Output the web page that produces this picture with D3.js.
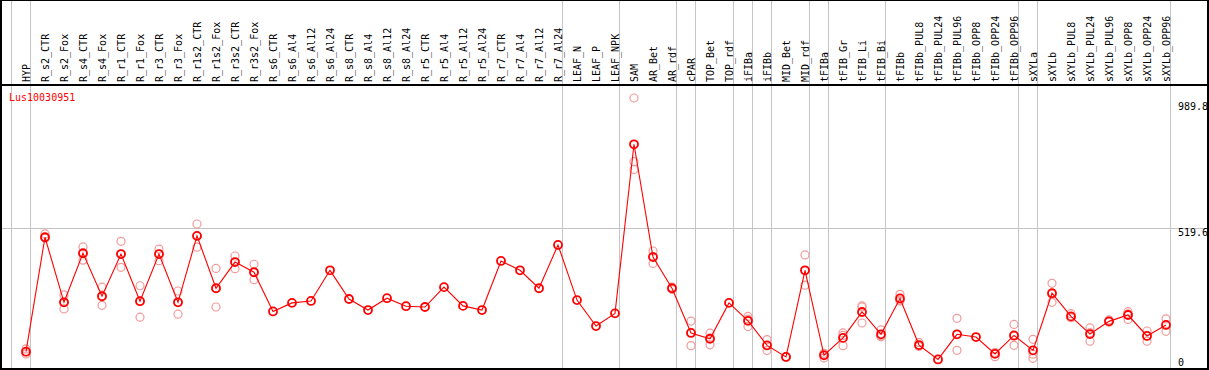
<!DOCTYPE html>
<html>
<head>
<meta charset="utf-8">
<script src="https://cdn.jsdelivr.net/npm/d3@7.9.0/dist/d3.min.js"></script>
<style>
  body { margin: 0; background: #fff; }
  svg { display: block; font-family: 'DejaVu Sans Mono', monospace; font-size: 10px; }
</style>
</head>
<body>
<div id="chart"></div>
<script>
const geneId = 'Lus10030951';

const samples = [
  'HYP', 'R_s2_CTR', 'R_s2_Fox', 'R_s4_CTR', 'R_s4_Fox', 'R_r1_CTR', 'R_r1_Fox',
  'R_r3_CTR', 'R_r3_Fox', 'R_r1s2_CTR', 'R_r1s2_Fox', 'R_r3s2_CTR', 'R_r3s2_Fox',
  'R_s6_CTR', 'R_s6_Al4', 'R_s6_Al12', 'R_s6_Al24', 'R_s8_CTR', 'R_s8_Al4',
  'R_s8_Al12', 'R_s8_Al24', 'R_r5_CTR', 'R_r5_Al4', 'R_r5_Al12', 'R_r5_Al24',
  'R_r7_CTR', 'R_r7_Al4', 'R_r7_Al12', 'R_r7_Al24', 'LEAF_N', 'LEAF_P', 'LEAF_NPK',
  'SAM', 'AR_Bet', 'AR_rdf', 'cPAR', 'TOP_Bet', 'TOP_rdf', 'iFIBa', 'iFIBb',
  'MID_Bet', 'MID_rdf', 'tFIBa', 'tFIB_Gr', 'tFIB_Li', 'tFIB_Bi', 'tFIBb',
  'tFIBb_PUL8', 'tFIBb_PUL24', 'tFIBb_PUL96', 'tFIBb_OPP8', 'tFIBb_OPP24', 'tFIBb_OPP96',
  'sXYLa', 'sXYLb', 'sXYLb_PUL8', 'sXYLb_PUL24', 'sXYLb_PUL96', 'sXYLb_OPP8',
  'sXYLb_OPP24', 'sXYLb_OPP96',
];

// mean expression per sample
const means = [
  70, 485, 249, 427, 271, 424, 253, 424, 249, 490, 300, 395, 358,
  216, 247, 254, 365, 261, 221, 264, 235, 232, 304, 236, 221,
  399, 365, 300, 457, 257, 163, 209,
  822, 413, 300, 138, 117, 247, 182, 93, 51, 365, 57, 120, 214, 133, 263,
  94, 42, 133, 123, 62, 129,
  75, 282, 198, 134, 180, 203, 127, 167,
];

// individual replicates (empty where they sit under the mean)
const replicates = [
  [80, 62, 70], [497, 482, 485], [276, 225, 249], [450, 402, 427], [304, 238, 271],
  [470, 376, 424], [309, 195, 253], [442, 400, 424], [290, 206, 249], [533, 449, 489],
  [372, 232, 300], [417, 371, 395], [387, 331, 358],
  [], [], [], [], [], [], [], [], [], [], [], [], [], [], [], [], [], [], [],
  [989.8, 759, 731], [435, 390, 415], [304, 296, 300], [181, 92, 140], [137, 95, 119],
  [], [198, 161, 188], [114, 74, 92], [50, 53], [421, 311, 364], [47, 60, 64],
  [138, 92, 129], [236, 174, 232], [149, 124, 127], [278, 254, 257],
  [103, 90, 90], [42], [191, 75, 133], [], [52, 66, 67], [169, 93, 126],
  [115, 61, 46], [318, 249, 278], [208, 193, 194], [156, 108, 139], [185, 178, 178],
  [215, 187, 207], [145, 108, 128], [189, 144, 168],
];

// first sample of each group, a separator is drawn before it
const groupStarts = [
  'HYP', 'R_s2_CTR', 'LEAF_N', 'SAM', 'cPAR', 'TOP_Bet', 'iFIBa', 'iFIBb',
  'MID_Bet', 'tFIBa', 'tFIB_Gr', 'tFIBb', 'sXYLa', 'sXYLb',
];

const yTicks = [0, 519.6, 989.8];

const width = 1209;
const height = 370;
const headerBottom = 85;

const svg = d3.select('#chart')
  .append('svg')
  .attr('width', width)
  .attr('height', height);

const xBand = d3.scaleBand()
  .domain(samples)
  .range([11, 1170]);

const xScale = d3.scalePoint()
  .domain(samples)
  .range([11, 1170])
  .padding(0.5)
  .align(15 / 19);

const yScale = d3.scaleLinear()
  .domain([0, 989.8])
  .range([371, 98]);

const grid = svg.append('g')
  .attr('stroke', '#c4c4c4')
  .attr('stroke-width', 1)
  .attr('shape-rendering', 'crispEdges');

const sepX = groupStarts.map((s) => xBand(s)).concat([xBand.range()[1]]);

grid.selectAll('line.sep')
  .data(sepX)
  .join('line')
  .attr('class', 'sep')
  .attr('x1', (d) => d + 0.5)
  .attr('x2', (d) => d + 0.5)
  .attr('y1', 0)
  .attr('y2', height);

grid.append('line')
  .attr('x1', 0)
  .attr('x2', 1207)
  .attr('y1', Math.round(yScale(519.6)) + 0.5)
  .attr('y2', Math.round(yScale(519.6)) + 0.5);

// sample labels in the header
svg.append('g')
  .selectAll('text')
  .data(samples)
  .join('text')
  .attr('transform', (d) => `translate(${xScale(d) + 4},82) rotate(-90)`)
  .attr('fill', '#000')
  .text((d) => d);

svg.append('text')
  .attr('x', 9)
  .attr('y', 101)
  .attr('fill', '#ff0000')
  .text(geneId);

// value labels on the right
svg.append('g')
  .selectAll('text')
  .data(yTicks)
  .join('text')
  .attr('x', 1178)
  .attr('y', (d) => Math.max(110, Math.min(366, yScale(d) + 8)))
  .attr('fill', '#000')
  .text((d) => d);

const points = samples.map((s, i) => ({ sample: s, mean: means[i], reps: replicates[i] }));

const repData = points.flatMap((p) => p.reps.map((v) => ({ sample: p.sample, value: v })));

svg.append('g')
  .selectAll('circle')
  .data(repData)
  .join('circle')
  .attr('cx', (d) => xScale(d.sample))
  .attr('cy', (d) => yScale(d.value))
  .attr('r', 4)
  .attr('fill', 'none')
  .attr('stroke', '#f09a9a')
  .attr('stroke-width', 1.2);

const line = d3.line()
  .x((d) => xScale(d.sample))
  .y((d) => yScale(d.mean));

svg.append('path')
  .datum(points)
  .attr('d', line)
  .attr('fill', 'none')
  .attr('stroke', '#ff0000')
  .attr('stroke-width', 1.1);

svg.append('g')
  .selectAll('circle')
  .data(points)
  .join('circle')
  .attr('cx', (d) => xScale(d.sample))
  .attr('cy', (d) => yScale(d.mean))
  .attr('r', 4)
  .attr('fill', 'none')
  .attr('stroke', '#ff0000')
  .attr('stroke-width', 1.8);

// frame
const frame = svg.append('g')
  .attr('stroke', '#000')
  .attr('stroke-width', 2)
  .attr('shape-rendering', 'crispEdges');

frame.append('rect')
  .attr('x', 1)
  .attr('y', 0)
  .attr('width', 1207)
  .attr('height', 369)
  .attr('fill', 'none');

frame.append('line')
  .attr('x1', 0)
  .attr('x2', 1208)
  .attr('y1', headerBottom)
  .attr('y2', headerBottom);
</script>
</body>
</html>
